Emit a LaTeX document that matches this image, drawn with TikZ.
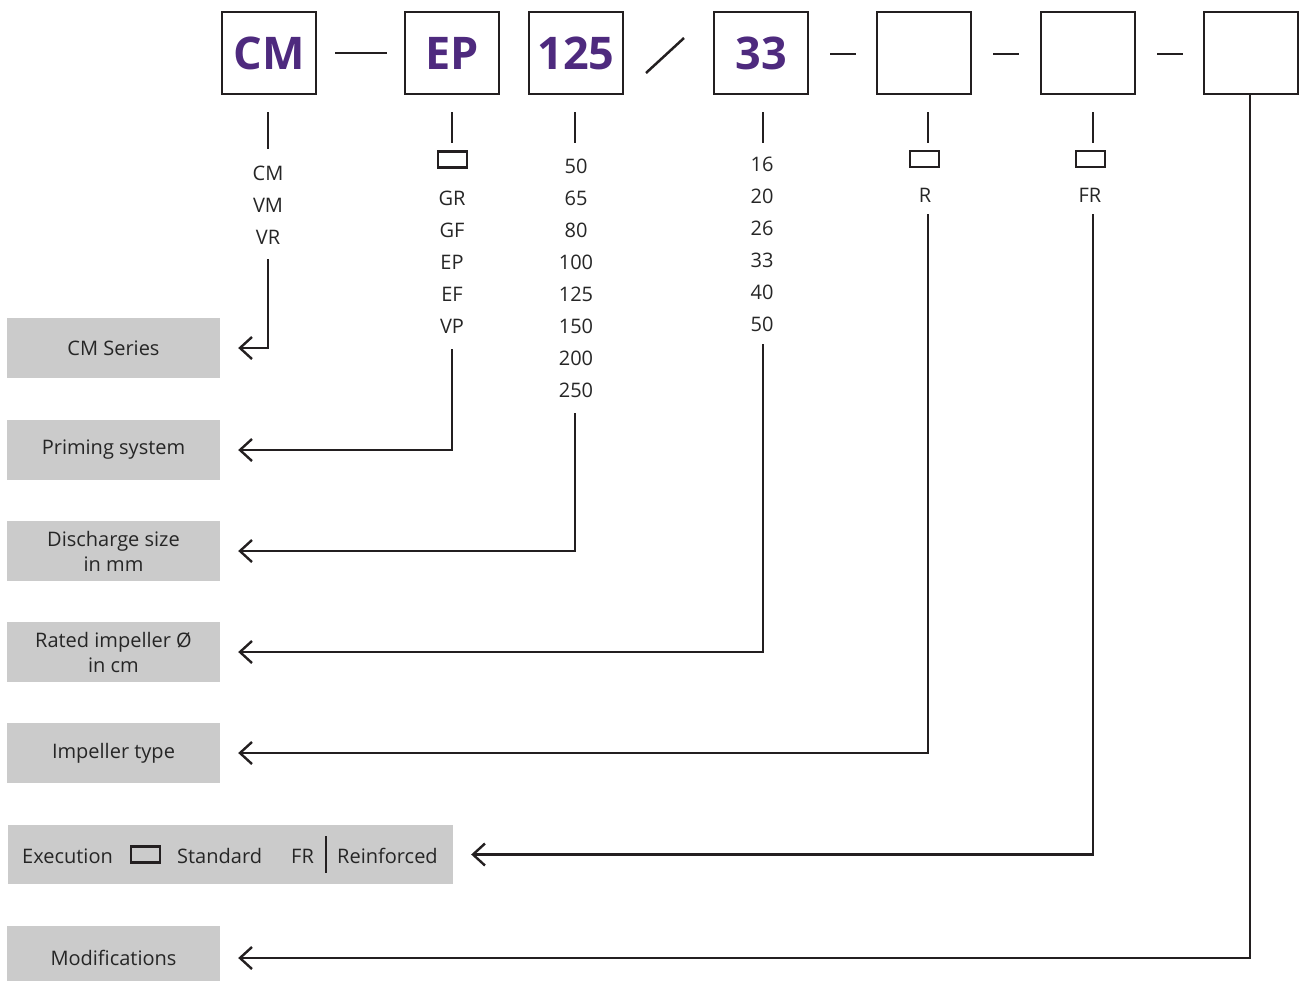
\documentclass[tikz,border=0pt]{standalone}
\usepackage{fontspec}
\setmainfont{Open Sans}
\usetikzlibrary{arrows.meta,calc}
\definecolor{ink}{HTML}{231F20}
\definecolor{txt}{HTML}{262626}
\definecolor{purp}{HTML}{4E2A7E}
\definecolor{greyfill}{HTML}{CBCBCB}
\begin{document}
\begin{tikzpicture}[x=1pt,y=-1pt,
  codebox/.style={draw=ink,line width=2.8pt,minimum width=94pt,minimum height=82pt,inner sep=0pt,font=\fontsize{45}{45}\selectfont\bfseries,text=purp},
  smallbox/.style={draw=ink,line width=2.4pt,minimum width=29pt,minimum height=16pt,inner sep=0pt},
  lab/.style={font=\fontsize{20}{24}\selectfont,text=txt,anchor=base,inner sep=0pt},
  greybox/.style={fill=greyfill,minimum width=213pt,minimum height=60pt,inner sep=0pt,font=\fontsize{20}{25}\selectfont,text=txt,align=center},
  seg/.style={draw=ink,line width=2.5pt},
  conn/.style={draw=ink,line width=2.4pt,-{Straight Barb[length=12pt,width=22pt]},shorten >=18pt}
]
\useasboundingbox (0,0) rectangle (1305,980);

% top code boxes
\node[codebox] (cm)  at (269,53) {CM};
\node[codebox] (ep)  at (452,53) {EP};
\node[codebox] (sz)  at (576,53) {125};
\node[codebox] (imd) at (761,53) {33};
\node[codebox] (e1)  at (924,53) {};
\node[codebox] (e2)  at (1088,53) {};
\node[codebox] (e3)  at (1251,53) {};

% separators
\draw[seg] (335,53) -- (387,53);
\draw[seg] (646,73) -- (684,38);
\draw[seg] (830,54) -- (856,54);
\draw[seg] (993,54) -- (1019,54);
\draw[seg] (1157,54) -- (1183,54);

% ticks
\draw[seg] (268,112) -- (268,149);
\draw[seg] (452,112) -- (452,143);
\draw[seg] (575,112) -- (575,143);
\draw[seg] (763,112) -- (763,143);
\draw[seg] (928,112) -- (928,143);
\draw[seg] (1093,112) -- (1093,143);

% small boxes
\node[smallbox] (sbep) at (452.5,159.5) {};
\node[smallbox] (sbr)  at (924.5,159) {};
\node[smallbox] (sbfr) at (1090.5,159) {};

% lists
\node[lab] (l1a) at (268,180) {CM};
\node[lab] (l1b) at (268,212) {VM};
\node[lab] (l1c) at (268,244) {VR};

\node[lab] (l2a) at (452,205) {GR};
\node[lab] (l2b) at (452,237) {GF};
\node[lab] (l2c) at (452,269) {EP};
\node[lab] (l2d) at (452,301) {EF};
\node[lab] (l2e) at (452,333) {VP};

\node[lab] (l3a) at (576,173) {50};
\node[lab] (l3b) at (576,205) {65};
\node[lab] (l3c) at (576,237) {80};
\node[lab] (l3d) at (576,269) {100};
\node[lab] (l3e) at (576,301) {125};
\node[lab] (l3f) at (576,333) {150};
\node[lab] (l3g) at (576,365) {200};
\node[lab] (l3h) at (576,397) {250};

\node[lab] (l4a) at (762,171) {16};
\node[lab] (l4b) at (762,203) {20};
\node[lab] (l4c) at (762,235) {26};
\node[lab] (l4d) at (762,267) {33};
\node[lab] (l4e) at (762,299) {40};
\node[lab] (l4f) at (762,331) {50};

\node[lab] (l5) at (925,202) {R};
\node[lab] (l6) at (1090,202) {FR};

% grey description boxes
\node[greybox] (cms)  at (113.5,348) {CM Series};
\node[greybox] (prim) at (113.5,450) {Priming system};
\node[greybox] (dis)  at (113.5,551) {Discharge size\\in mm};
\node[greybox] (rat)  at (113.5,652) {Rated impeller Ø\\in cm};
\node[greybox] (imp)  at (113.5,753) {Impeller type};
\node[greybox,minimum width=445pt,minimum height=59pt] (exec) at (230.5,854.5) {};
\node[greybox,minimum height=64pt] (mod) at (113.5,958) {Modifications};

% execution contents
\node[lab,anchor=base west] (exa) at (22,863) {Execution};
\node[smallbox] (exbox) at (145.5,854.5) {};
\node[lab,anchor=base west] (exb) at (177,863) {Standard};
\node[lab,anchor=base west] (exc) at (291,863) {FR};
\draw[seg] (326,836) -- (326,873);
\node[lab,anchor=base west] (exd) at (337,863) {Reinforced};

% connectors
\coordinate (c1) at (268,259);
\coordinate (c2) at (452,349);
\coordinate (c3) at (575,413);
\coordinate (c4) at (763,344);
\coordinate (c5) at (928,214);
\coordinate (c6) at (1093,214);
\coordinate (c7) at (1250,95);
\draw[conn] (c1) |- (cms.east);
\draw[conn] (c2) |- (prim.east);
\draw[conn] (c3) |- (dis.east);
\draw[conn] (c4) |- (rat.east);
\draw[conn] (c5) |- (imp.east);
\draw[conn] (c6) |- (exec.east);
\draw[conn] (c7) |- (mod.east);
\end{tikzpicture}
\end{document}
